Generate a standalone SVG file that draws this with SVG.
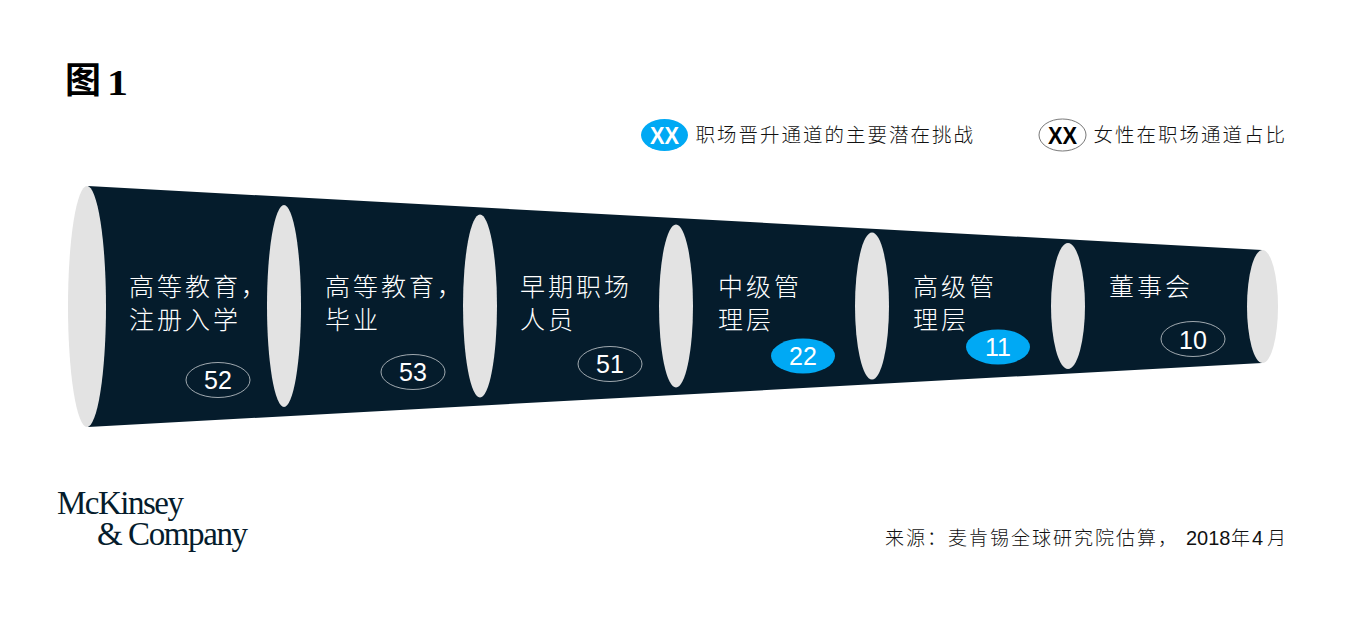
<svg xmlns="http://www.w3.org/2000/svg" width="1350" height="617" viewBox="0 0 1350 617">
<style>
.cjk{font-family:"Noto Sans CJK SC","Liberation Sans",sans-serif;font-weight:300}
.stage{font-size:25px;letter-spacing:3px;fill:#fff}
.legend{font-size:19.500px;letter-spacing:2px;fill:#111}
.num{font-family:"Liberation Sans",Arial,sans-serif;font-size:25px;fill:#fff;text-anchor:middle}
.xx{font-family:"Liberation Sans",sans-serif;font-weight:700;font-size:24px}
.ring{fill:none;stroke:#c8cdd0;stroke-width:.8}
.fillb{fill:#00A9F4}
.disc{fill:#E3E3E3}
.logo{font-family:"Liberation Serif",serif;font-size:33px;fill:#051C2C}
</style>
<g id="title"><text x="65" y="93" font-family="Noto Sans CJK SC,sans-serif" font-weight="700" font-size="36" fill="#000">图</text><text x="107" y="95" font-family="Liberation Serif,serif" font-weight="700" font-size="35" fill="#000" textLength="21" lengthAdjust="spacingAndGlyphs">1</text></g>
<g id="legend-challenge"><ellipse cx="664.500" cy="135" rx="23.500" ry="16" class="fillb"/><text x="650" y="144" class="xx" fill="#fff" textLength="29" lengthAdjust="spacingAndGlyphs">XX</text><text x="695.500" y="142" class="cjk legend">职场晋升通道的主要潜在挑战</text></g>
<g id="legend-share"><ellipse cx="1062.500" cy="135" rx="23.500" ry="16" fill="#fff" stroke="#555" stroke-width=".8"/><text x="1048" y="144" class="xx" fill="#000" textLength="29" lengthAdjust="spacingAndGlyphs">XX</text><text x="1093.500" y="142" class="cjk legend">女性在职场通道占比</text></g>
<g id="funnel"><polygon points="88,186 1262,250 1262,363 88,427" fill="#051C2C"/>
<ellipse cx="87" cy="306.500" rx="19" ry="120.500" class="disc"/><ellipse cx="284" cy="306" rx="17" ry="101" class="disc"/><ellipse cx="480" cy="306" rx="17" ry="91.500" class="disc"/><ellipse cx="676" cy="306" rx="17" ry="81.500" class="disc"/><ellipse cx="872" cy="306" rx="17" ry="73.500" class="disc"/><ellipse cx="1068" cy="306" rx="17" ry="63" class="disc"/><ellipse cx="1262.500" cy="306.500" rx="15.500" ry="56.500" class="disc"/></g>
<g id="stage-1"><text x="129" y="296" class="cjk stage">高等教育，</text><text x="129" y="329" class="cjk stage">注册入学</text><ellipse cx="218" cy="380" rx="32" ry="17.500" class="ring"/><text x="218" y="389" class="num">52</text></g>
<g id="stage-2"><text x="325" y="296" class="cjk stage">高等教育，</text><text x="325" y="329" class="cjk stage">毕业</text><ellipse cx="413" cy="372" rx="32" ry="17.500" class="ring"/><text x="413" y="381" class="num">53</text></g>
<g id="stage-3"><text x="520" y="296" class="cjk stage">早期职场</text><text x="520" y="329" class="cjk stage">人员</text><ellipse cx="610" cy="364" rx="32" ry="17.500" class="ring"/><text x="610" y="373" class="num">51</text></g>
<g id="stage-4"><text x="718" y="296" class="cjk stage">中级管</text><text x="718" y="329" class="cjk stage">理层</text><ellipse cx="803" cy="356" rx="32" ry="17.500" class="fillb"/><text x="803" y="365" class="num">22</text></g>
<g id="stage-5"><text x="913" y="296" class="cjk stage">高级管</text><text x="913" y="329" class="cjk stage">理层</text><ellipse cx="998" cy="347" rx="32" ry="17.500" class="fillb"/><text x="998" y="356" class="num">11</text></g>
<g id="stage-6"><text x="1109" y="296" class="cjk stage">董事会</text><ellipse cx="1193" cy="339" rx="32" ry="17.500" class="ring"/><text x="1193" y="349" class="num">10</text></g>
<g id="logo"><text x="57" y="514" class="logo" textLength="127" lengthAdjust="spacing">McKinsey</text><text x="97" y="545" class="logo" textLength="151" lengthAdjust="spacing">&amp; Company</text></g>
<g id="source"><text x="885" y="545" font-size="19" fill="#111" class="cjk" letter-spacing="2">来源：麦肯锡全球研究院估算，</text><text x="1186" y="545" font-family="Liberation Sans,sans-serif" font-size="20" fill="#111">2018</text><text x="1231" y="545" class="cjk" font-size="19" fill="#111">年</text><text x="1252" y="545" font-family="Liberation Sans,sans-serif" font-size="20" fill="#111">4</text><text x="1267" y="545" class="cjk" font-size="19" fill="#111">月</text></g>
</svg>
